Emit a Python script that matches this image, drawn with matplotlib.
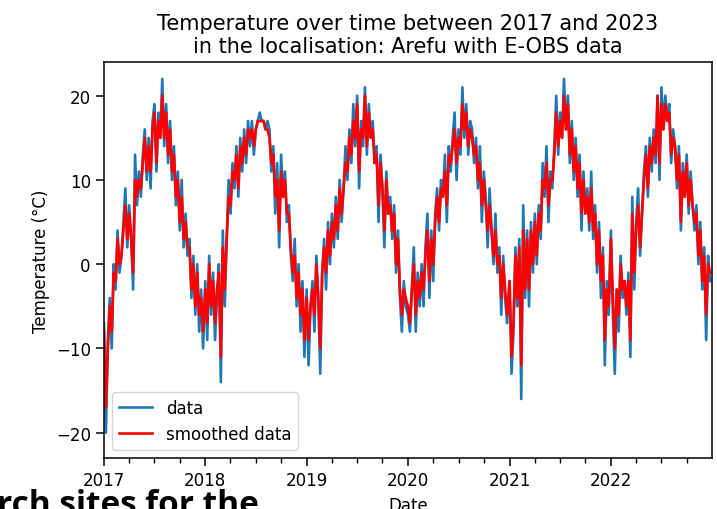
import matplotlib
matplotlib.use("Agg")
import matplotlib.pyplot as plt
import matplotlib.dates as mdates
import numpy as np
import pandas as pd

# ---- data (weekly readings, one array per year) ----
years = [2017, 2018, 2019, 2020, 2021, 2022]

data_2017 = [-7, -20, -9, -4, -10, 0, -3, 4, -1, 1, 5, 9, 2, 7, 3, -3, 13, 7, 11, 8, 13, 16, 10, 15, 9, 17,
             19, 11, 18, 15, 22, 14, 19, 12, 17, 10, 14, 7, 11, 4, 10, 2, 6, 1, 3, -4, 1, -6, 0, -8, -3, -10]
smooth_2017 = [-8, -17, -10, -5, -8, -1, -2, 3, 0, 1, 4, 7, 3, 6, 3, -1, 10, 8, 10, 9, 12, 15, 11, 14, 11, 16,
               18, 12, 17, 15, 20, 15, 18, 13, 16, 11, 13, 8, 10, 5, 8, 3, 5, 2, 2, -3, 0, -5, -1, -6, -4, -8]

data_2018 = [-2, -9, 1, -6, -1, -9, -4, 0, -14, 4, -5, 3, 10, 6, 12, 9, 14, 8, 15, 11, 16, 12, 17, 14, 17, 13,
             16, 17, 18, 17, 17, 16, 17, 16, 11, 14, 6, 12, 2, 13, 8, 11, 5, 7, 1, -2, 3, -5, 0, -8, -2, -11]
smooth_2018 = [-3, -7, 0, -5, -2, -7, -3, -1, -11, 2, -3, 3, 8, 7, 11, 10, 13, 9, 14, 12, 15, 13, 16, 15, 16, 14,
               16, 17, 17, 17, 17, 16, 16, 15, 12, 13, 8, 10, 4, 11, 8, 10, 6, 6, 2, -1, 1, -4, -1, -6, -3, -9]

data_2019 = [-3, -12, -5, -2, -8, 1, -4, -13, -1, 3, -3, 5, 0, 6, 2, 8, 3, 10, 5, 9, 14, 10, 16, 12, 19, 14,
             20, 9, 17, 14, 21, 13, 19, 15, 17, 12, 14, 5, 13, 9, 2, 11, 6, 8, 3, 7, -1, 4, -4, -8, -2, -5]
smooth_2019 = [-4, -9, -5, -3, -6, 0, -4, -10, -1, 2, -1, 4, 1, 5, 3, 7, 4, 9, 6, 9, 12, 11, 15, 13, 17, 15,
               19, 11, 16, 15, 20, 14, 18, 15, 16, 12, 13, 7, 12, 9, 4, 10, 6, 7, 4, 6, 0, 3, -3, -6, -3, -4]

data_2020 = [-6, -8, -3, 2, -8, -1, -5, 0, -5, 2, 6, -4, 4, -2, 6, 9, 4, 10, 8, 13, 5, 14, 11, 15, 18, 10,
             16, 13, 21, 15, 19, 13, 17, 16, 12, 15, 9, 14, 5, 11, 8, 2, 9, 4, 0, 6, -1, 2, -6, 1, -4, -7]
smooth_2020 = [-5, -7, -3, 0, -6, -2, -4, -1, -3, 1, 4, -2, 3, 0, 5, 8, 5, 9, 8, 11, 7, 13, 12, 14, 16, 12,
               15, 14, 19, 16, 18, 14, 16, 15, 13, 14, 10, 12, 7, 10, 7, 4, 7, 4, 1, 4, 0, 1, -4, 0, -3, -6]

data_2021 = [-2, -13, -8, 2, -5, 3, -16, 7, -4, 4, -5, 5, -1, 6, 0, 7, 3, 12, 8, 14, 5, 11, 9, 14, 20, 13,
             18, 15, 22, 16, 20, 12, 17, 10, 15, 8, 13, 4, 11, 6, 9, 4, 11, 3, 7, -1, 5, -4, 2, -12, -2, -6]
smooth_2021 = [-2, -11, -7, 1, -4, 2, -12, 4, -3, 3, -3, 4, 0, 5, 1, 6, 4, 10, 9, 12, 7, 10, 10, 13, 18, 14,
               17, 15, 20, 16, 19, 13, 16, 11, 14, 9, 12, 6, 10, 6, 8, 5, 9, 4, 6, 0, 4, -2, 1, -9, -3, -5]

data_2022 = [4, -6, -13, -3, -8, 1, -4, -2, -6, -1, -11, 8, -3, 5, 9, 1, 6, 11, 14, 8, 15, 11, 16, 12, 20, 10,
             21, 16, 20, 17, 19, 12, 16, 14, 9, 14, 4, 12, 8, 13, 6, 11, 7, 4, 7, 0, 5, -3, 2, -9, 1, -2]
smooth_2022 = [3, -4, -10, -3, -6, 0, -3, -2, -5, -2, -9, 6, -1, 4, 7, 2, 6, 10, 13, 9, 14, 12, 15, 13, 20, 12,
               19, 16, 19, 17, 18, 13, 15, 14, 10, 13, 5, 11, 8, 12, 7, 10, 7, 5, 6, 1, 4, -2, 1, -6, 0, -1]

data_by_year = [data_2017, data_2018, data_2019, data_2020, data_2021, data_2022]
smooth_by_year = [smooth_2017, smooth_2018, smooth_2019, smooth_2020, smooth_2021, smooth_2022]

title_text = "Temperature over time between 2017 and 2023\nin the localisation: Arefu with E-OBS data"
y_ticks = [-20, -10, 0, 10, 20]

# ---- assemble time axis ----
dates = []
for y, vals in zip(years, data_by_year):
    start = pd.Timestamp(f"{y}-01-01")
    dates.extend(start + pd.to_timedelta(np.arange(len(vals)) * 7, unit="D"))
dates = pd.DatetimeIndex(dates)
data = np.concatenate([np.asarray(v, float) for v in data_by_year])
smooth = np.concatenate([np.asarray(v, float) for v in smooth_by_year])

# ---- plot ----
fig = plt.figure(figsize=(7.17, 5.10), dpi=100)
ax = fig.add_axes([0.145, 0.10, 0.848, 0.7765])
ax.plot(dates, data, color="#1f77b4", lw=1.9, label="data")
ax.plot(dates, smooth, color="red", lw=1.9, label="smoothed data")

ax.set_xlim(pd.Timestamp("2017-01-01"), pd.Timestamp("2022-12-31"))
ax.set_ylim(-23, 24)
ax.set_yticks(y_ticks)
ax.xaxis.set_major_locator(mdates.YearLocator())
ax.xaxis.set_major_formatter(mdates.DateFormatter("%Y"))
ax.xaxis.set_minor_locator(mdates.MonthLocator(bymonth=[4, 7, 10]))
ax.tick_params(labelsize=12, length=6, width=1.1)
ax.tick_params(which="minor", length=3.5, width=1.0)
for s in ax.spines.values():
    s.set_linewidth(1.1)

ax.set_title(title_text, fontsize=15, pad=7)
ax.set_ylabel("Temperature (°C)", fontsize=12)
ax.set_xlabel("Date", fontsize=12, labelpad=5)
ax.legend(loc="lower left", fontsize=12)

fig.text(-0.004, -0.008, "rch sites for the", fontsize=24, fontweight="bold",
         family=["Open Sans", "DejaVu Sans"], va="baseline", ha="left")

fig.savefig("out.png", dpi=100)
